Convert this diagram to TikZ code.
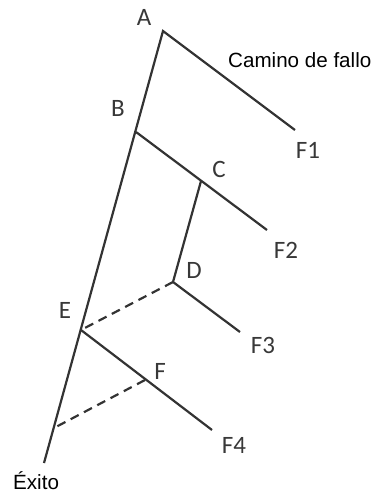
\documentclass[tikz,border=0pt]{standalone}
\usepackage{fontspec}
\setmainfont{Liberation Sans}
\newfontfamily\lblfont{Carlito}
\begin{document}
\begin{tikzpicture}[x=1pt,y=-1pt,
  branch/.style={draw=black!80,line width=2.2pt},
  dashbranch/.style={branch,dash pattern=on 9pt off 6pt},
  ptlabel/.style={font=\lblfont\fontsize{25}{28}\selectfont,text=black!78,inner sep=0pt},
  txtlabel/.style={font=\fontsize{20.6}{24}\selectfont,text=black,inner sep=0pt,anchor=base west}]
\useasboundingbox (0,0) rectangle (375,493);
% points
\coordinate (pA) at (163,31);
\coordinate (pB) at (136,132);
\coordinate (pC) at (201,181);
\coordinate (pD) at (173,282);
\coordinate (pE) at (81,330);
\coordinate (pF) at (145,380);
\coordinate (pS) at (54,428);
\coordinate (pX) at (44,463);
\coordinate (e1) at (295,130);
\coordinate (e2) at (267,230);
\coordinate (e3) at (240,332);
\coordinate (e4) at (212,430);
% lines
\draw[branch] (pX) -- (pA) -- (e1);
\draw[branch] (pB) -- (e2);
\draw[branch] (pC) -- (pD) -- (e3);
\draw[branch] (pE) -- (e4);
\draw[dashbranch] (pD) -- (pE);
\draw[dashbranch] (pF) -- (pS);
% labels
\node[ptlabel] (lA) at (144,17) {A};
\node[ptlabel] (lB) at (118,108) {B};
\node[ptlabel] (lC) at (219,169) {C};
\node[ptlabel] (lD) at (194,270) {D};
\node[ptlabel] (lE) at (65,310) {E};
\node[ptlabel] (lF) at (160,371) {F};
\node[ptlabel] (lF1) at (308,150) {F1};
\node[ptlabel] (lF2) at (286,250) {F2};
\node[ptlabel] (lF3) at (263,345) {F3};
\node[ptlabel] (lF4) at (234,445) {F4};
\node[txtlabel] (cam) at (228,67) {Camino de fallo};
\node[txtlabel] (ex) at (13,489) {Éxito};
\end{tikzpicture}
\end{document}
